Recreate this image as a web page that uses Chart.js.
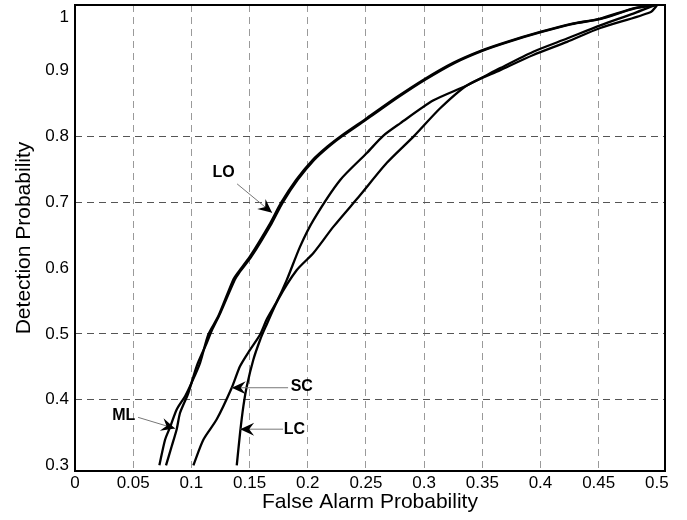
<!DOCTYPE html>
<html>
<head>
<meta charset="utf-8">
<title>ROC curves</title>
<script src="https://cdn.jsdelivr.net/npm/chart.js@4.4.1/dist/chart.umd.min.js"></script>
<style>
    body { margin: 0; background: #fff; }
    canvas { display: block; }
</style>
</head>
<body>
<canvas id="rocChart" width="687" height="520"></canvas>
<script>
// Axis ticks
const faTicks = [0, 0.05, 0.1, 0.15, 0.2, 0.25, 0.3, 0.35, 0.4, 0.45, 0.5];
const faTickLabels = ['0', '0.05', '0.1', '0.15', '0.2', '0.25', '0.3', '0.35', '0.4', '0.45', '0.5'];
const pdTicks = [0.3, 0.4, 0.5, 0.6, 0.7, 0.8, 0.9, 1];
const pdTickLabels = ['0.3', '0.4', '0.5', '0.6', '0.7', '0.8', '0.9', '1'];
const pdGridShown = [0.4, 0.5, 0.7, 0.8];

// ML curve (false alarm / detection)
const mlFa = [0.0725, 0.0774, 0.0817, 0.0874, 0.0946, 0.1003, 0.1075, 0.1146, 0.1232, 0.1359, 0.1395, 0.1505, 0.1677, 0.1770, 0.1900,
    0.2040, 0.2170, 0.2287, 0.2508, 0.2766, 0.2992, 0.3250, 0.3497, 0.3712, 0.3998, 0.4256, 0.4506, 0.4798, 0.4987];
const mlPd = [0.300, 0.339, 0.358, 0.385, 0.405, 0.426, 0.456, 0.499, 0.527, 0.582, 0.592, 0.618, 0.668, 0.699, 0.734,
    0.764, 0.785, 0.801, 0.828, 0.860, 0.886, 0.912, 0.931, 0.944, 0.959, 0.971, 0.979, 0.995, 1.0];

// LO curve
const loFa = [0.0782, 0.0831, 0.0874, 0.0903, 0.0974, 0.1046, 0.1132, 0.1178, 0.1247, 0.1372, 0.1408, 0.1518, 0.1690, 0.1783, 0.1913,
    0.2053, 0.2183, 0.2300, 0.2521, 0.2779, 0.3005, 0.3263, 0.3510, 0.3725, 0.4011, 0.4269, 0.4519, 0.4811, 0.4995];
const loPd = [0.300, 0.329, 0.355, 0.380, 0.410, 0.451, 0.486, 0.506, 0.531, 0.582, 0.592, 0.618, 0.668, 0.699, 0.734,
    0.764, 0.785, 0.801, 0.828, 0.860, 0.886, 0.912, 0.931, 0.944, 0.959, 0.971, 0.979, 0.995, 1.0];

// SC curve
const scFa = [0.1017, 0.1103, 0.1218, 0.1347, 0.1419, 0.1505, 0.1591, 0.1648, 0.1734, 0.1820, 0.1935, 0.2049, 0.2279, 0.2508,
    0.2648, 0.2794, 0.3081, 0.3371, 0.3654, 0.3938, 0.4228, 0.4514, 0.4798, 0.4987];
const scPd = [0.300, 0.339, 0.370, 0.418, 0.451, 0.476, 0.499, 0.522, 0.549, 0.582, 0.633, 0.673, 0.734, 0.775,
    0.801, 0.820, 0.855, 0.878, 0.904, 0.929, 0.949, 0.969, 0.987, 1.0];

// LC curve
const lcFa = [0.1390, 0.1419, 0.1447, 0.1476, 0.1533, 0.1591, 0.1634, 0.1745, 0.1906, 0.2049, 0.2221, 0.2451, 0.2680, 0.2915,
    0.3138, 0.3371, 0.3654, 0.3938, 0.4228, 0.4514, 0.4944, 0.5004];
const lcPd = [0.300, 0.350, 0.390, 0.420, 0.461, 0.491, 0.509, 0.552, 0.597, 0.623, 0.663, 0.711, 0.760, 0.801,
    0.843, 0.878, 0.901, 0.924, 0.944, 0.965, 0.989, 1.0];

// Labels with arrows (text position, start of leader line, arrow tip), in data units
const notes = [
    { text: 'LO', at: [0.1276, 0.745], from: [0.1393, 0.728], tip: [0.1694, 0.684] },
    { text: 'ML', at: [0.0419, 0.375], from: [0.0542, 0.373], tip: [0.0860, 0.356] },
    { text: 'SC', at: [0.1949, 0.419], from: [0.1831, 0.418], tip: [0.1347, 0.418] },
    { text: 'LC', at: [0.1886, 0.355], from: [0.1788, 0.355], tip: [0.1419, 0.355] }
];

const FONT = "'Liberation Sans', Arial, sans-serif";

const toPoints = (xs, ys) => xs.map((v, i) => ({ x: v, y: ys[i] }));

const curve = (label, xs, ys) => ({
    label: label,
    data: toPoints(xs, ys),
    borderColor: '#000',
    borderWidth: 2.3,
    pointRadius: 0,
    tension: 0.25,
    fill: false
});

// Arrowhead with a notched back
const drawArrowHead = (ctx, fx, fy, tx, ty) => {
    const a = Math.atan2(ty - fy, tx - fx);
    ctx.save();
    ctx.translate(tx, ty);
    ctx.rotate(a);
    ctx.beginPath();
    ctx.moveTo(0, 0);
    ctx.lineTo(-14, -6.5);
    ctx.lineTo(-9, 0);
    ctx.lineTo(-14, 6.5);
    ctx.closePath();
    ctx.fill();
    ctx.restore();
};

const framePlugin = {
    id: 'frameAndNotes',
    afterDatasetsDraw(chart) {
        const { ctx, chartArea: a, scales } = chart;
        const x = scales.x, y = scales.y;
        ctx.save();

        notes.forEach(n => {
            const fx = x.getPixelForValue(n.from[0]), fy = y.getPixelForValue(n.from[1]);
            const tx = x.getPixelForValue(n.tip[0]), ty = y.getPixelForValue(n.tip[1]);
            ctx.strokeStyle = '#777';
            ctx.lineWidth = 1;
            ctx.beginPath();
            ctx.moveTo(fx, fy);
            ctx.lineTo(tx, ty);
            ctx.stroke();
            ctx.fillStyle = '#000';
            drawArrowHead(ctx, fx, fy, tx, ty);
            ctx.font = 'bold 16px ' + FONT;
            ctx.textAlign = 'center';
            ctx.textBaseline = 'middle';
            ctx.fillText(n.text, x.getPixelForValue(n.at[0]), y.getPixelForValue(n.at[1]));
        });

        ctx.strokeStyle = '#000';
        ctx.lineWidth = 2;
        ctx.strokeRect(a.left, a.top, a.right - a.left, a.bottom - a.top);
        ctx.restore();
    }
};

document.addEventListener('DOMContentLoaded', () => {
    const ctx = document.getElementById('rocChart').getContext('2d');

    new Chart(ctx, {
        type: 'line',
        data: {
            datasets: [
                curve('ML', mlFa, mlPd),
                curve('LO', loFa, loPd),
                curve('SC', scFa, scPd),
                curve('LC', lcFa, lcPd)
            ]
        },
        options: {
            responsive: false,
            animation: false,
            devicePixelRatio: 1,
            layout: { padding: { left: 0, right: 22, top: 5, bottom: 0 } },
            plugins: {
                legend: { display: false },
                tooltip: { enabled: false }
            },
            scales: {
                x: {
                    type: 'linear',
                    min: 0,
                    max: 0.507,
                    border: { display: false, dash: [7, 5] },
                    afterBuildTicks: scale => {
                        scale.ticks = faTicks.map(v => ({ value: v }));
                    },
                    afterFit: scale => { scale.height = 49; },
                    ticks: {
                        autoSkip: false,
                        maxRotation: 0,
                        padding: 2,
                        color: '#000',
                        font: { family: FONT, size: 17 },
                        callback: (value, index) => faTickLabels[index]
                    },
                    grid: {
                        drawTicks: false,
                        color: c => (c.tick && c.tick.value > 0 && c.tick.value < 0.5) ? '#9a9a9a' : 'rgba(0,0,0,0)',
                        lineWidth: 1
                    },
                    title: {
                        display: true,
                        text: 'False Alarm Probability',
                        color: '#000',
                        font: { family: FONT, size: 21 },
                        padding: { top: 0, bottom: 5 }
                    }
                },
                y: {
                    type: 'linear',
                    min: 0.2914,
                    max: 1.0,
                    border: { display: false, dash: [7, 5] },
                    afterBuildTicks: scale => {
                        // top label sits a little below the frame, as in the original
                        scale.ticks = pdTicks.map(v => ({ value: v >= scale.max ? scale.max - 0.019 : v }));
                    },
                    afterFit: scale => {
                        scale.width = 75;
                        scale.paddingTop = 0;
                        scale.paddingBottom = 0;
                    },
                    ticks: {
                        autoSkip: false,
                        padding: 6,
                        color: '#000',
                        font: { family: FONT, size: 17 },
                        callback: (value, index) => pdTickLabels[index]
                    },
                    grid: {
                        drawTicks: false,
                        color: c => (c.tick && pdGridShown.includes(c.tick.value)) ? '#555' : 'rgba(0,0,0,0)',
                        lineWidth: 1
                    },
                    title: {
                        display: true,
                        text: 'Detection Probability',
                        color: '#000',
                        font: { family: FONT, size: 21 },
                        padding: { top: 12, bottom: 0 }
                    }
                }
            }
        },
        plugins: [framePlugin]
    });
});
</script>
</body>
</html>
